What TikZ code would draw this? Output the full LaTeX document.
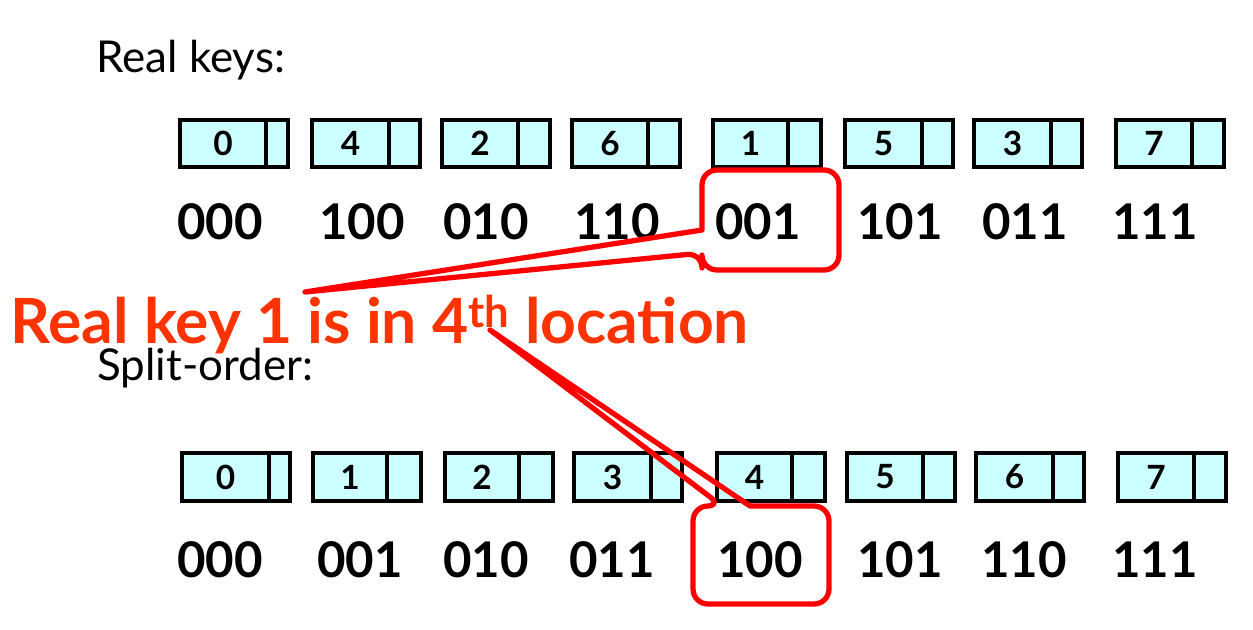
\documentclass[tikz,border=0pt]{standalone}
\usepackage{fontspec}
\setmainfont{Lato}
\usetikzlibrary{calc}

\def\pix{0.02cm}
\definecolor{cellfill}{HTML}{CCFFFF}
\definecolor{notered}{HTML}{FF3300}
\tikzset{
  keycell/.style={draw, fill=cellfill, line width=2pt, inner sep=0pt, outer sep=0pt,
    minimum height=47*\pix, font=\fontsize{19}{19}\selectfont\bfseries},
  bits/.style={font=\fontsize{28}{28}\selectfont\bfseries, inner sep=0pt},
  heading/.style={font=\fontsize{25}{25}\selectfont, anchor=base west, inner sep=0pt},
  hilite/.style={draw=none, inner sep=0pt, outer sep=0pt},
  balloon/.style={draw=red, line width=3pt, line join=round},
}

\begin{document}
\begin{tikzpicture}[x=0.02cm, y=-0.02cm]
  \useasboundingbox (0,0) rectangle (1253,629);

  \node[heading] (realhd) at (96,72) {Real keys:};
  \node[heading] (splithd) at (97,380) {Split-order:};

  % real keys, in split order
  \foreach \k/\x/\w [count=\i] in {0/180/22, 4/312/31, 2/442/32, 6/572/32,
                                   1/713/33, 5/845/31, 3/974/31, 7/1116/32}{
    \node[keycell, minimum width={(108-\w)*\pix}, anchor=west] (rk\i) at (\x,143.5) {\k};
    \node[keycell, minimum width={\w*\pix}, anchor=west] (rkp\i) at (rk\i.east) {};
  }
  \foreach \b/\x [count=\i] in {000/220, 100/362, 010/486, 110/617,
                                001/758, 101/900, 011/1025, 111/1155}
    \node[bits] (rb\i) at (\x,222) {\b};

  % split-order keys
  \foreach \k/\x/\w [count=\i] in {0/182/21, 1/313/34, 2/445/34, 3/574/31,
                                   4/717/33, 5/847/32, 6/976/31, 7/1118/32}{
    \node[keycell, minimum width={(108-\w)*\pix}, minimum height=48*\pix, anchor=west] (sk\i) at (\x,477) {\k};
    \node[keycell, minimum width={\w*\pix}, minimum height=48*\pix, anchor=west] (skp\i) at (sk\i.east) {};
  }
  \foreach \b/\x [count=\i] in {000/220, 001/360, 010/486, 011/612,
                                100/760, 101/900, 110/1024, 111/1155}
    \node[bits] (sb\i) at (\x,560) {\b};

  \node[anchor=base west, text=notered, inner sep=0pt,
        font=\fontsize{35.5}{35.5}\selectfont\bfseries] (note) at (10,343)
        {Real key 1 is in 4\textsuperscript{th} location};

  % callouts
  \node[hilite, minimum width=137*\pix, minimum height=100*\pix] (hl1) at (770.5,220) {};
  \coordinate (tip1) at (305,292);
  \draw[balloon] (tip1) -- ($(hl1.north west)+(0,60)$) [rounded corners=8.5pt]
    -- (hl1.north west) -- (hl1.north east) -- (hl1.south east) -- (hl1.south west)
    -- ($(hl1.north west)+(0,83)$) [sharp corners] -- cycle;

  \node[hilite, minimum width=136*\pix, minimum height=98*\pix] (hl2) at (761,555) {};
  \coordinate (tip2) at (490,330);
  \draw[balloon] (tip2) -- ($(hl2.north west)+(57,0)$) [rounded corners=8.5pt]
    -- (hl2.north east) -- (hl2.south east) -- (hl2.south west) -- (hl2.north west)
    -- ($(hl2.north west)+(29,0)$) [sharp corners] -- cycle;
\end{tikzpicture}
\end{document}
